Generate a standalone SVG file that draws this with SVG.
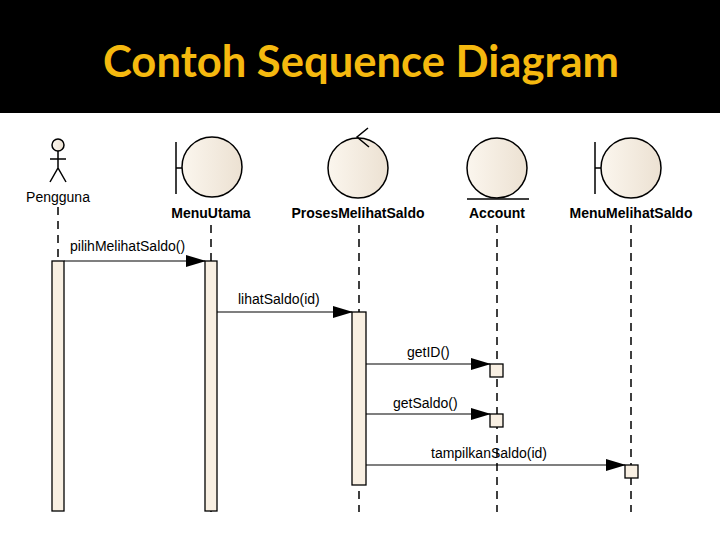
<svg xmlns="http://www.w3.org/2000/svg" width="720" height="540" viewBox="0 0 720 540">
<style>
.life{stroke:#000;stroke-width:1.5;stroke-dasharray:8,6;fill:none}
.obj{fill:url(#g);stroke:#000;stroke-width:1.5}
.act{fill:#f8efe2;stroke:#000;stroke-width:1.3}
.msg{stroke:#000;stroke-width:1.2;fill:none;marker-end:url(#a)}
.ln{stroke:#000;stroke-width:1.5;fill:none}
.lbl{font-family:"Liberation Sans",Arial,sans-serif;font-size:14px;fill:#000}
.name{font-family:"Liberation Sans",Arial,sans-serif;font-size:14px;font-weight:bold;fill:#000;text-anchor:middle}
</style>
<defs>
<linearGradient id="g" x1="0" x2="1"><stop offset="0" stop-color="#fbf6ee"/><stop offset="1" stop-color="#ece1d2"/></linearGradient>
<marker id="a" markerWidth="20" markerHeight="12" refX="19" refY="6" orient="auto" markerUnits="userSpaceOnUse"><path d="M0,0 L20,6 L0,12 Z" fill="#000"/></marker>
</defs>
<rect width="720" height="540" fill="#fff"/>
<rect width="720" height="113" fill="#000"/>
<text x="361" y="77" text-anchor="middle" font-family="Lato,'Open Sans',sans-serif" font-size="43" font-weight="bold" fill="#f5b90f" textLength="516" lengthAdjust="spacingAndGlyphs">Contoh Sequence Diagram</text>
<g id="connectors">
<line class="life" x1="58" y1="207" x2="58" y2="512"/>
<line class="life" x1="211" y1="225" x2="211" y2="512"/>
<line class="life" x1="359" y1="225" x2="359" y2="512"/>
<line class="life" x1="497" y1="225" x2="497" y2="512"/>
<line class="life" x1="631" y1="225" x2="631" y2="512"/>
<line class="msg" x1="64" y1="261" x2="205" y2="261"/>
<text class="lbl" x="70" y="251">pilihMelihatSaldo()</text>
<line class="msg" x1="217" y1="312" x2="352" y2="312"/>
<text class="lbl" x="238" y="304">lihatSaldo(id)</text>
<line class="msg" x1="366" y1="364" x2="490" y2="364"/>
<text class="lbl" x="407" y="357">getID()</text>
<line class="msg" x1="366" y1="414" x2="490" y2="414"/>
<text class="lbl" x="393" y="408">getSaldo()</text>
<line class="msg" x1="366" y1="465" x2="625" y2="465"/>
<text class="lbl" x="431" y="458">tampilkanSaldo(id)</text>
</g>
<g id="Pengguna">
<circle cx="58" cy="145" r="6" class="obj"/>
<path class="ln" d="M58,151 V168 M50,159 H66 M50,182 L58,168 L66,182" stroke-width="1.3"/>
<text class="lbl" x="58" y="202" text-anchor="middle">Pengguna</text>
<rect class="act" x="52" y="261" width="12" height="250"/>
</g>
<g id="MenuUtama">
<circle cx="212" cy="167" r="30" class="obj"/>
<path class="ln" d="M176,142 V194 M176,168 H182"/>
<text class="name" x="211" y="218">MenuUtama</text>
<rect class="act" x="205" y="261" width="12" height="250"/>
</g>
<g id="ProsesMelihatSaldo">
<circle cx="358" cy="168" r="30" class="obj"/>
<path class="ln" d="M368,128 L357,137 L369,147"/>
<text class="name" x="358" y="218">ProsesMelihatSaldo</text>
<rect class="act" x="352" y="312" width="14" height="173"/>
</g>
<g id="Account">
<circle cx="497" cy="168" r="30" class="obj"/>
<path class="ln" d="M467,199 H529"/>
<text class="name" x="497" y="218">Account</text>
<rect class="act" x="490" y="364" width="13" height="13"/>
<rect class="act" x="490" y="414" width="13" height="13"/>
</g>
<g id="MenuMelihatSaldo">
<circle cx="631" cy="168" r="30" class="obj"/>
<path class="ln" d="M595,142 V194 M595,168 H601"/>
<text class="name" x="631" y="218">MenuMelihatSaldo</text>
<rect class="act" x="625" y="465" width="13" height="13"/>
</g>
</svg>
